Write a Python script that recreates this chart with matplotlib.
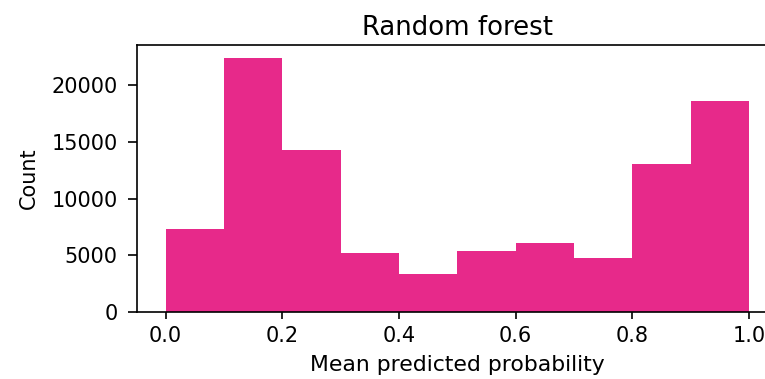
import matplotlib
matplotlib.use("Agg")
import matplotlib.pyplot as plt
import numpy as np

bin_edges = [0.0, 0.1, 0.2, 0.3, 0.4, 0.5, 0.6, 0.7, 0.8, 0.9, 1.0]
counts = [7300, 22430, 14310, 5160, 3360, 5340, 6040, 4770, 13020, 18640]
title = "Random forest"
xlabel = "Mean predicted probability"
ylabel = "Count"

DPI = 150
fig = plt.figure(figsize=(765 / DPI, 379 / DPI), dpi=DPI)
ax = fig.add_axes([136.5 / 765, (379 - 311.7) / 379, (778 - 136.5) / 765, (311.7 - 45.3) / 379])
centers = [(a + b) / 2 for a, b in zip(bin_edges[:-1], bin_edges[1:])]
ax.hist(centers, bins=bin_edges, weights=counts, color="#e7298a")
ax.set_title(title, fontsize=12.5, pad=5)
ax.set_xlabel(xlabel, fontsize=10.5)
ax.set_ylabel(ylabel, labelpad=6)
ax.tick_params(axis="y", length=4.5, pad=4.5)
fig.savefig("out.png", dpi=DPI)
